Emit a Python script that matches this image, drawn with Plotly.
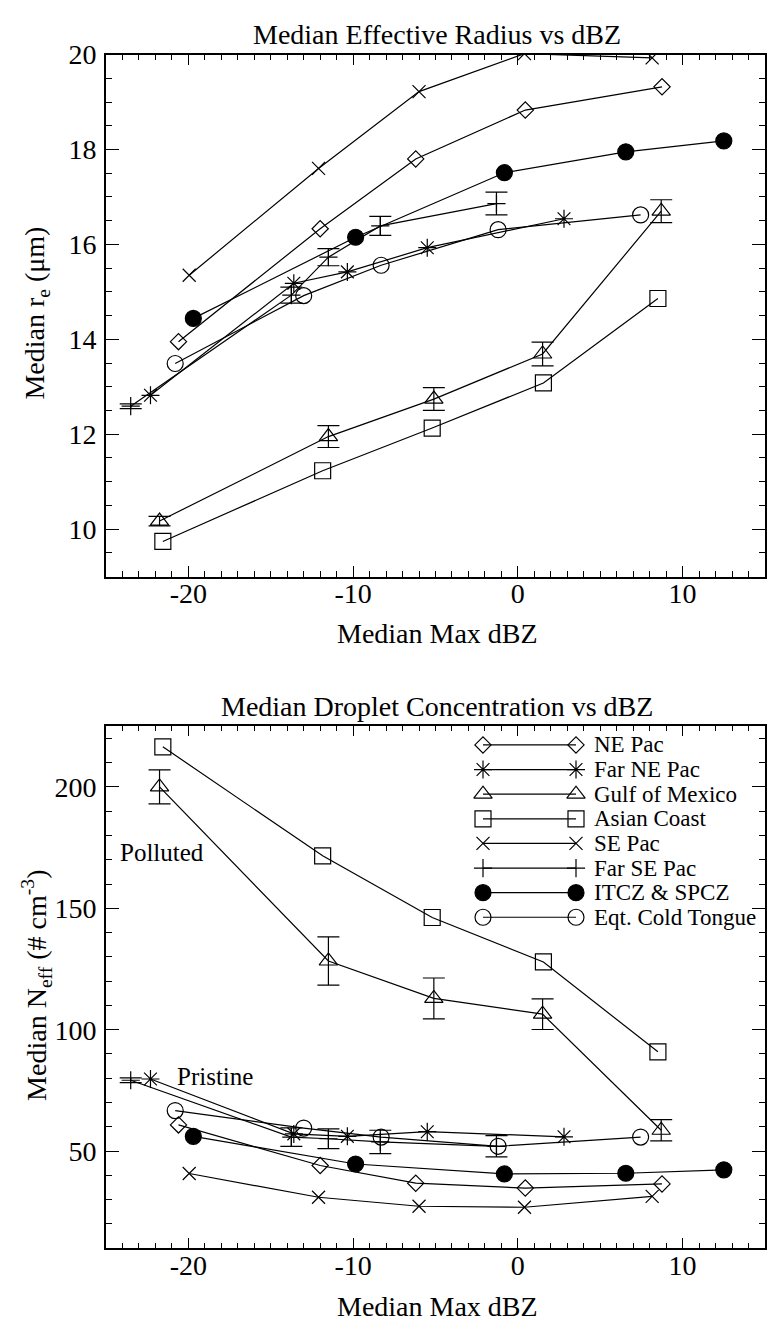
import plotly.graph_objects as go

# ---------------- data ----------------
regions = ["NE Pac", "Far NE Pac", "Gulf of Mexico", "Asian Coast",
           "SE Pac", "Far SE Pac", "ITCZ & SPCZ", "Eqt. Cold Tongue"]

# median max dBZ of each bin
ne_pac_dbz = [-20.6, -12.0, -6.2, 0.45, 8.75]
far_ne_pac_dbz = [-22.3, -13.6, -10.35, -5.5, 2.8]
gulf_dbz = [-21.75, -11.5, -5.1, 1.5, 8.7]
asian_dbz = [-21.55, -11.85, -5.2, 1.55, 8.5]
se_pac_dbz = [-19.95, -12.1, -6.0, 0.4, 8.15]
far_se_pac_dbz = [-23.5, -13.75, -11.5, -8.35, -1.3]
itcz_dbz = [-19.7, -9.85, -0.82, 6.55, 12.5]
ect_dbz = [-20.8, -13.0, -8.3, -1.2, 7.45]

# median effective radius (um)
ne_pac_re = [13.95, 16.33, 17.80, 18.83, 19.32]
far_ne_pac_re = [12.82, 15.18, 15.42, 15.93, 16.54]
gulf_re = [10.17, 11.95, 12.74, 13.69, 16.70]
gulf_re_err = [0.10, 0.23, 0.24, 0.25, 0.24]
asian_re = [9.74, 11.23, 12.13, 13.08, 14.86]
se_pac_re = [15.35, 17.60, 19.22, 20.02, 19.93]
far_se_pac_re = [12.59, 14.93, 15.73, 16.39, 16.86]
far_se_pac_re_err = [0.05, 0.17, 0.18, 0.20, 0.24]
itcz_re = [14.44, 16.15, 17.51, 17.95, 18.18]
ect_re = [13.49, 14.92, 15.56, 16.31, 16.62]

# median droplet concentration (# cm^-3)
ne_pac_n = [60.8, 44.1, 36.8, 34.8, 36.5]
far_ne_pac_n = [79.7, 57.1, 56.1, 58.0, 55.9]
gulf_n = [200.0, 128.3, 112.9, 106.4, 58.6]
gulf_n_err = [7.0, 9.9, 8.4, 6.3, 4.4]
asian_n = [216.5, 171.6, 146.2, 127.9, 90.9]
se_pac_n = [40.8, 31.0, 27.3, 26.9, 31.4]
far_se_pac_n = [79.2, 55.8, 55.1, 53.8, 52.0]
far_se_pac_n_err = [1.0, 3.8, 4.1, 4.8, 4.4]
itcz_n = [56.1, 44.7, 40.6, 40.9, 42.3]
ect_n = [66.7, 59.5, 55.8, 52.0, 55.8]

x_tickvals = [-20, -10, 0, 10]
x_ticktext = ["-20", "-10", "0", "10"]
re_tickvals = [10, 12, 14, 16, 18, 20]
re_ticktext = ["10", "12", "14", "16", "18", "20"]
n_tickvals = [50, 100, 150, 200]
n_ticktext = ["50", "100", "150", "200"]

# ---------------- layout helpers ----------------
W, H = 767, 1325
FONT = "Liberation Serif, Times New Roman, serif"


def px(x):
    return x / W


def py(y):
    return 1 - y / H


series = [
    # name, dbz, re, re_err, n, n_err, symbol, size
    ("NE Pac", ne_pac_dbz, ne_pac_re, None, ne_pac_n, None, "diamond-open", 12.5),
    ("Far NE Pac", far_ne_pac_dbz, far_ne_pac_re, None, far_ne_pac_n, None, "asterisk-open", 15),
    ("Gulf of Mexico", gulf_dbz, gulf_re, gulf_re_err, gulf_n, gulf_n_err, "triangle-up-open", 16),
    ("Asian Coast", asian_dbz, asian_re, None, asian_n, None, "square-open", 16),
    ("SE Pac", se_pac_dbz, se_pac_re, None, se_pac_n, None, "x-thin-open", 13),
    ("Far SE Pac", far_se_pac_dbz, far_se_pac_re, far_se_pac_re_err, far_se_pac_n, far_se_pac_n_err, "cross-thin-open", 13),
    ("ITCZ & SPCZ", itcz_dbz, itcz_re, None, itcz_n, None, "circle", 16),
    ("Eqt. Cold Tongue", ect_dbz, ect_re, None, ect_n, None, "circle-open", 16),
]

LW = 1.2
fig = go.Figure()

for name, dbz, re_, re_err, n, n_err, sym, size in series:
    marker = dict(symbol=sym, size=size, color="black",
                  line=dict(color="black", width=LW))
    for xa, ya, yv, err in (("x", "y", re_, re_err), ("x2", "y2", n, n_err)):
        tr = dict(x=dbz, y=yv, xaxis=xa, yaxis=ya, mode="lines+markers",
                  line=dict(color="black", width=LW), marker=marker,
                  name=name, showlegend=False, cliponaxis=True)
        if err is not None:
            tr["error_y"] = dict(type="data", array=err, visible=True,
                                 color="black", thickness=LW, width=11)
        fig.add_trace(go.Scatter(**tr))

# ---------------- hand-drawn legend (symbol ---- symbol  label) ----------------
leg_x0, leg_x1, leg_tx = 483, 576, 592
leg_y0, leg_dy = 738.3, 24.9
annotations = []
for i, (name, *_rest) in enumerate(series):
    sym, size = _rest[-2], _rest[-1]
    yy = leg_y0 + i * leg_dy
    fig.add_trace(go.Scatter(
        x=[leg_x0, leg_x1], y=[yy, yy], xaxis="x3", yaxis="y3",
        mode="lines+markers", line=dict(color="black", width=LW),
        marker=dict(symbol=sym, size=size, color="black",
                    line=dict(color="black", width=LW)),
        showlegend=False, cliponaxis=False, hoverinfo="skip"))
    annotations.append(dict(x=px(leg_tx), y=py(yy), xref="paper", yref="paper",
                            text=name, showarrow=False, xanchor="left",
                            yanchor="middle", font=dict(family=FONT, size=23, color="black")))

# ---------------- axes ----------------
x_dom = [px(106), px(765)]
top_dom = [py(568), py(40)]
bot_dom = [py(1247.4), py(719.3)]


def xaxis(anchor):
    return dict(domain=x_dom, anchor=anchor, range=[-25, 15],
                tickmode="array", tickvals=x_tickvals, ticktext=x_ticktext,
                ticks="inside", ticklen=10.5, tickwidth=LW, tickcolor="black",
                minor=dict(tickmode="linear", tick0=0, dtick=1, ticks="inside",
                           ticklen=5.3, tickwidth=LW, tickcolor="black"),
                showline=True, linewidth=1.6, linecolor="black", mirror="ticks",
                showgrid=False, zeroline=False, ticklabelstandoff=-9,
                tickfont=dict(family=FONT, size=28, color="black"))


def yaxis(anchor, dom, rng, tv, tt, minor_dt):
    return dict(domain=dom, anchor=anchor, range=rng,
                tickmode="array", tickvals=tv, ticktext=tt,
                ticks="inside", ticklen=13.2, tickwidth=LW, tickcolor="black",
                minor=dict(tickmode="linear", tick0=0, dtick=minor_dt, ticks="inside",
                           ticklen=6.6, tickwidth=LW, tickcolor="black"),
                showline=True, linewidth=1.6, linecolor="black", mirror="ticks",
                showgrid=False, zeroline=False, ticklabelstandoff=2,
                tickfont=dict(family=FONT, size=28, color="black"))


fig.update_layout(
    width=W, height=H, margin=dict(l=0, r=0, t=0, b=0),
    paper_bgcolor="white", plot_bgcolor="rgba(0,0,0,0)",
    showlegend=False,
    xaxis=xaxis("y"),
    yaxis=yaxis("x", top_dom, [9, 20], re_tickvals, re_ticktext, 0.5),
    xaxis2=xaxis("y2"),
    yaxis2=yaxis("x2", bot_dom, [10, 225], n_tickvals, n_ticktext, 10),
    xaxis3=dict(domain=[0, 1], anchor="y3", range=[0, W], visible=False, fixedrange=True),
    yaxis3=dict(domain=[0, 1], anchor="x3", range=[H, 0], visible=False, fixedrange=True),
)

tf = dict(family=FONT, size=28, color="black")
annotations += [
    dict(x=px(437), y=py(20), text="Median Effective Radius vs dBZ"),
    dict(x=px(437), y=py(699), text="Median Droplet Concentration vs dBZ"),
    dict(x=px(437), y=py(626), text="Median Max dBZ"),
    dict(x=px(437), y=py(1306.5), text="Median Max dBZ"),
    dict(x=px(37), y=py(302), text="Median r<sub>e</sub> (μm)", textangle=-90),
    dict(x=px(37), y=py(982), text="Median N<sub>eff</sub> (# cm<sup>-3</sup>)", textangle=-90),
]
for a in annotations[-6:]:
    a.update(xref="paper", yref="paper", showarrow=False,
             xanchor="center", yanchor="middle", font=tf)

annotations += [
    dict(x=-24.25, y=172.9, xref="x2", yref="y2", text="Polluted", showarrow=False,
         xanchor="left", yanchor="middle", font=dict(family=FONT, size=25, color="black")),
    dict(x=-20.8, y=80.7, xref="x2", yref="y2", text="Pristine", showarrow=False,
         xanchor="left", yanchor="middle", font=dict(family=FONT, size=25, color="black")),
]
fig.update_layout(annotations=annotations)

fig.write_html("out.html")
